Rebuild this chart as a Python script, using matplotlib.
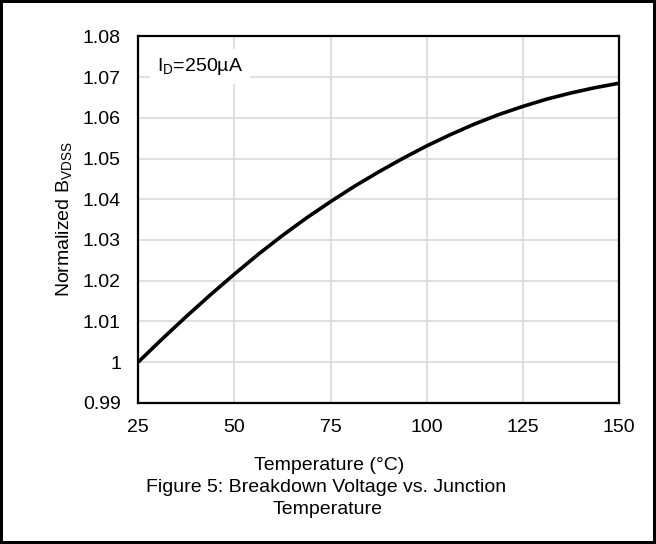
import numpy as np
import matplotlib.pyplot as plt
from matplotlib.ticker import FuncFormatter

plt.rcParams['font.family'] = ['Liberation Sans', 'DejaVu Sans']
plt.rcParams['mathtext.fontset'] = 'custom'
plt.rcParams['mathtext.rm'] = 'Liberation Sans'

# temperature (C) vs normalized BVDSS
temps = [25, 31.25, 37.5, 43.75, 50, 56.25, 62.5, 68.75, 75, 81.25, 87.5,
         93.75, 100, 106.25, 112.5, 118.75, 125, 131.25, 137.5, 143.75, 150]
bvdss = [1.0, 1.0057, 1.0112, 1.0165, 1.0216, 1.0265, 1.0311, 1.0354, 1.0394, 1.0432, 1.0467,
         1.05, 1.0531, 1.0559, 1.0585, 1.0608, 1.0628, 1.0646, 1.0661, 1.0674, 1.0685]

x_ticks = [25, 50, 75, 100, 125, 150]
y_ticks = [0.99, 1.0, 1.01, 1.02, 1.03, 1.04, 1.05, 1.06, 1.07, 1.08]

fig = plt.figure(figsize=(6.56, 5.44), dpi=100, edgecolor='black', linewidth=4)
ax = fig.add_axes([0.2108, 0.2597, 0.9436 - 0.2108, 0.9331 - 0.2597])

ax.plot(temps, bvdss, color='black', lw=2.6, solid_capstyle='butt', solid_joinstyle='round', zorder=3)

ax.set_xlim(25, 150)
ax.set_ylim(0.99, 1.08)
ax.set_xticks(x_ticks)
ax.set_yticks(y_ticks)
ax.yaxis.set_major_formatter(FuncFormatter(lambda v, p: f'{v:.2f}'.rstrip('0').rstrip('.')))
ax.tick_params(length=0, labelsize=14)
ax.tick_params(axis='y', pad=12.5)
ax.tick_params(axis='x', pad=11.5)
ax.grid(True, color='#d9d9d9', lw=1.2)
ax.set_axisbelow(True)
for s in ax.spines.values():
    s.set_linewidth(1.6)
    s.set_color('black')

ax.text(0.039, 0.919, r'$\mathregular{I_D}$=250µA', transform=ax.transAxes,
        fontsize=14, va='center', ha='left',
        bbox=dict(facecolor='white', edgecolor='none', pad=5), zorder=4)

ax.set_ylabel(r'Normalized B$\mathregular{_{VDSS}}$', fontsize=14, labelpad=6.5)

fig.text(329 / 656, 1 - 466 / 544, 'Temperature (°C)', ha='center', va='center', fontsize=14)
fig.text(326 / 656, 1 - 487 / 544, 'Figure 5: Breakdown Voltage vs. Junction', ha='center', va='center', fontsize=14)
fig.text(328 / 656, 1 - 510 / 544, 'Temperature', ha='center', va='center', fontsize=14)

fig.savefig('out.png', dpi=100)
